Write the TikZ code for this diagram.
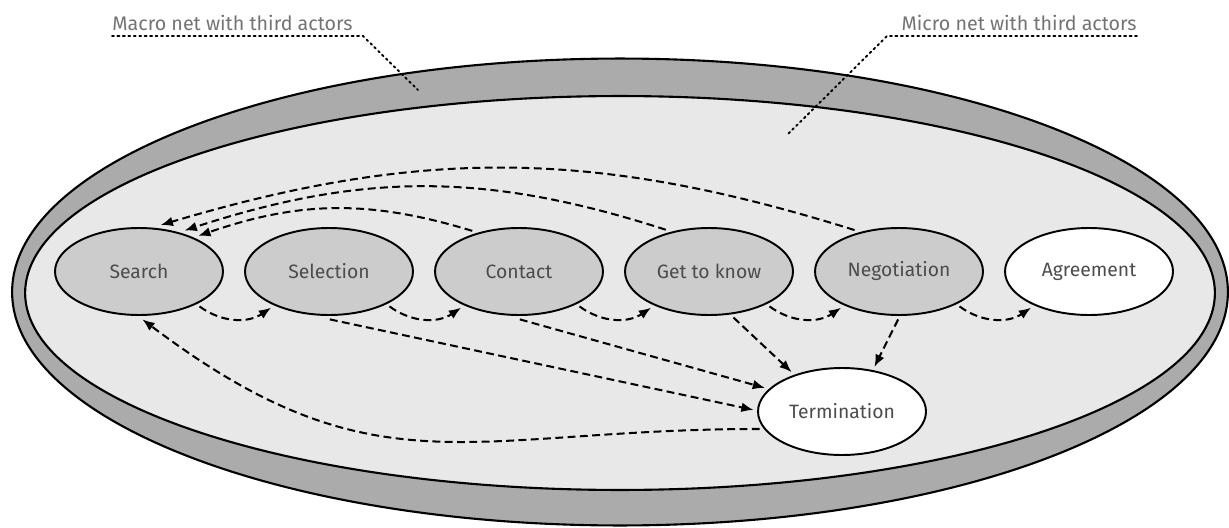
\documentclass[tikz,border=0pt]{standalone}
\usepackage{fontspec}
\setmainfont{Fira Sans}
\usepackage{xcolor}
\usetikzlibrary{positioning,arrows.meta,shapes}

\begin{document}
\begin{tikzpicture}[x=0.02cm, y=0.02cm,
    phase/.style={ellipse, draw, line width=1.1pt, outer sep=2.5pt, minimum width=3.36cm, minimum height=1.74cm, font=\fontsize{11}{13}\selectfont, text=black!70},
    flow/.style={line width=1.15pt, dash pattern=on 4.5pt off 2.5pt, -{Latex[length=7pt,width=5.5pt]}},
    lead/.style={line width=1.1pt, dotted, line cap=round},
    netlabel/.style={inner xsep=0pt, inner ysep=3pt, font=\fontsize{11.2}{13}\selectfont, text=black!55}]
        \useasboundingbox (0,0) rectangle (1229,-527);

        % Macro net and micro net
        \draw[line width=1.2pt, fill=black!33] (620,-292) ellipse [x radius=12.16cm, y radius=4.67cm];
        \draw[line width=1.2pt, fill=black!9] (620,-293) ellipse [x radius=11.9cm, y radius=3.94cm];

        % Phases
        \foreach \name/\x/\val/\col in {srch/139/Search/black!20, sel/329/Selection/black!20, con/519/Contact/black!20, gtk/709/Get to know/black!20, neg/899/Negotiation/black!20, agr/1089/Agreement/white} {
          \node[phase, fill=\col] (\name) at (\x, -271.5) {\val};
        }
        \node[phase, fill=white] (term) at (842, -411.5) {Termination};

        % Next phase
        \foreach \a/\b in {srch/sel, sel/con, con/gtk, gtk/neg, neg/agr} {
          \draw[flow] (\a.-30) to[bend right=35] (\b.212);
        }

        % Back to search
        \draw[flow] (con.139) to[bend right=18] (srch.31);
        \draw[flow] (gtk.136) to[bend right=18] (srch.42);
        \draw[flow] (neg.137) to[bend right=17] (srch.65);

        % Termination
        \draw[flow] (sel.-89) -- (term.179);
        \draw[flow] (con.-89) -- (term.163);
        \draw[flow] (gtk.-62) -- (term.142);
        \draw[flow] (neg.-91) -- (term.54);
        \draw[flow] (term.192) to[out=180, in=-37, looseness=1.2] (srch.-86);

        % Net labels
        \node[netlabel, anchor=south west] (maclbl) at (112,-36) {Macro net with third actors};
        \coordinate (macbend) at (363,-36);
        \coordinate (macend) at (418,-90);
        \draw[lead] (maclbl.south west) -- (macbend) -- (macend);

        \node[netlabel, anchor=south east] (miclbl) at (1137,-36) {Micro net with third actors};
        \coordinate (micbend) at (887,-36);
        \coordinate (micend) at (787,-135);
        \draw[lead] (miclbl.south east) -- (micbend) -- (micend);
    \end{tikzpicture}
\end{document}
